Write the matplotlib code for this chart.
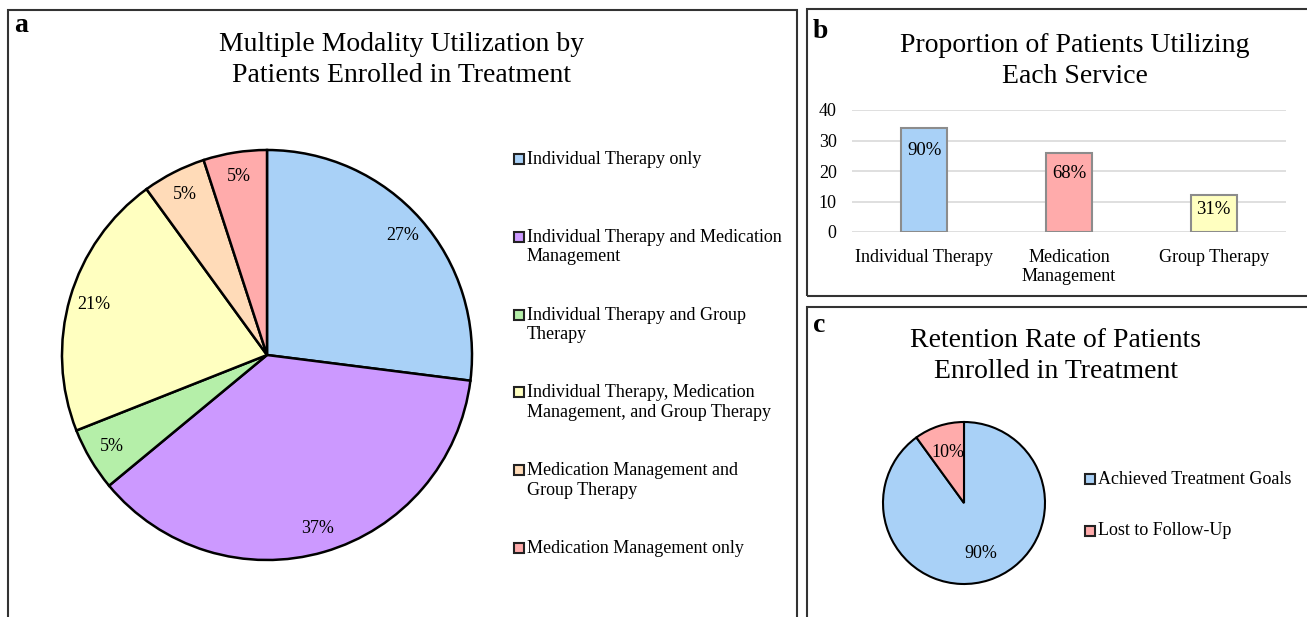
import matplotlib
matplotlib.use("Agg")
import matplotlib.pyplot as plt
from matplotlib.patches import Rectangle

plt.rcParams['font.family'] = ['Liberation Serif', 'DejaVu Serif']

# ---------------- data ----------------
modality_labels = [
    "Individual Therapy only",
    "Individual Therapy and Medication\nManagement",
    "Individual Therapy and Group\nTherapy",
    "Individual Therapy, Medication\nManagement, and Group Therapy",
    "Medication Management and\nGroup Therapy",
    "Medication Management only",
]
modality_pct = [27, 37, 5, 21, 5, 5]

service_labels = ["Individual Therapy", "Medication\nManagement", "Group Therapy"]
service_counts = [34, 26, 12]
service_pct_labels = ["90%", "68%", "31%"]

retention_labels = ["Achieved Treatment Goals", "Lost to Follow-Up"]
retention_pct = [90, 10]

# ---------------- styles ----------------
modality_colors = ["#A9D1F7", "#CC99FF", "#B5EFA9", "#FFFFC0", "#FFDBB8", "#FFABAB"]
service_colors = ["#A9D1F7", "#FFABAB", "#FFFFC0"]
retention_colors = ["#A9D1F7", "#FFABAB"]
bar_label_offsets = [-16, -15, -10]  # points

W, H = 1307, 617
fig = plt.figure(figsize=(W / 100, H / 100), dpi=100)


def fx(x):
    return x / W


def fy(y):
    return 1 - y / H


def add_ax_px(left, top, width, height):
    return fig.add_axes([fx(left), fy(top + height), width / W, height / H])


# panel borders
for (x0, y0, x1, y1) in [(8, 10, 797, 625), (807, 9, 1312, 296), (807, 307, 1312, 625)]:
    fig.add_artist(Rectangle((fx(x0), fy(y1)), (x1 - x0) / W, (y1 - y0) / H,
                             transform=fig.transFigure, fill=False,
                             edgecolor="#333333", linewidth=1.5))

# panel letters
fig.text(fx(14), fy(25), "a", fontsize=20, fontweight="bold", va="center", ha="left")
fig.text(fx(813), fy(31), "b", fontsize=20, fontweight="bold", va="center", ha="left")
fig.text(fx(813), fy(325), "c", fontsize=20, fontweight="bold", va="center", ha="left")

TITLE_FS = 20
TITLE_LS = 1.3
# ---------------- panel a ----------------
fig.text(fx(402), fy(60), "Multiple Modality Utilization by\nPatients Enrolled in Treatment",
         fontsize=TITLE_FS, ha="center", va="center", linespacing=TITLE_LS)

r_a = 205
ax_a = add_ax_px(267 - r_a, 355 - r_a, 2 * r_a, 2 * r_a)
wedges, texts, autotexts = ax_a.pie(
    modality_pct, colors=modality_colors, startangle=90, counterclock=False,
    autopct=lambda p: f"{p:.0f}%", pctdistance=0.88,
    wedgeprops=dict(edgecolor="black", linewidth=1.8),
    textprops=dict(fontsize=13))
ax_a.set_xlim(-1, 1)
ax_a.set_ylim(-1, 1)
ax_a.set_aspect("equal")
ax_a.axis("off")

# legend a (manual, evenly spaced)
leg_y0, leg_dy = 159, 77.8
for i, (lab, col) in enumerate(zip(modality_labels, modality_colors)):
    y = leg_y0 + i * leg_dy
    fig.add_artist(Rectangle((fx(514), fy(y + 5)), 10 / W, 10 / H,
                             transform=fig.transFigure, facecolor=col,
                             edgecolor="#222222", linewidth=1.5))
    fig.text(fx(527), fy(y - 8), lab, fontsize=13, ha="left", va="top", linespacing=1.2)

# ---------------- panel b ----------------
fig.text(fx(1075), fy(61), "Proportion of Patients Utilizing\nEach Service",
         fontsize=TITLE_FS, ha="center", va="center", linespacing=TITLE_LS)

ax_b = add_ax_px(852, 110, 434, 122)
xpos = list(range(len(service_counts)))
bars = ax_b.bar(xpos, service_counts, width=0.32, color=service_colors,
                edgecolor="#8C8C8C", linewidth=1.5, zorder=3)
ax_b.set_xlim(-0.5, len(service_counts) - 0.5)
ax_b.set_ylim(0, 40)
ax_b.set_yticks([0, 10, 20, 30, 40])
ax_b.yaxis.grid(True, color="#D9D9D9", linewidth=1.2, zorder=0)
ax_b.set_axisbelow(True)
for s in ax_b.spines.values():
    s.set_visible(False)
ax_b.set_xticks(xpos)
ax_b.set_xticklabels(service_labels, fontsize=13, linespacing=1.15)
ax_b.tick_params(axis="both", length=0, labelsize=13)
ax_b.tick_params(axis="x", pad=12)
ax_b.tick_params(axis="y", pad=11)
for x, v, lab, off in zip(xpos, service_counts, service_pct_labels, bar_label_offsets):
    ax_b.annotate(lab, (x, v), xytext=(0, off), textcoords="offset points",
                  ha="center", va="center", fontsize=13.5, zorder=4)

# ---------------- panel c ----------------
fig.text(fx(1056), fy(356), "Retention Rate of Patients\nEnrolled in Treatment",
         fontsize=TITLE_FS, ha="center", va="center", linespacing=TITLE_LS)

r_c = 81
ax_c = add_ax_px(964 - r_c, 503 - r_c, 2 * r_c, 2 * r_c)
ax_c.pie(retention_pct, colors=retention_colors, startangle=90, counterclock=False,
         autopct=lambda p: f"{p:.0f}%", pctdistance=0.66,
         wedgeprops=dict(edgecolor="black", linewidth=1.5),
         textprops=dict(fontsize=13))
ax_c.set_xlim(-1, 1)
ax_c.set_ylim(-1, 1)
ax_c.set_aspect("equal")
ax_c.axis("off")

for i, (lab, col) in enumerate(zip(retention_labels, retention_colors)):
    y = 479 + i * 51.5
    fig.add_artist(Rectangle((fx(1085), fy(y + 5)), 10 / W, 10 / H,
                             transform=fig.transFigure, facecolor=col,
                             edgecolor="#222222", linewidth=1.5))
    fig.text(fx(1098), fy(y), lab, fontsize=13, ha="left", va="center")

fig.savefig("out.png", dpi=100)
